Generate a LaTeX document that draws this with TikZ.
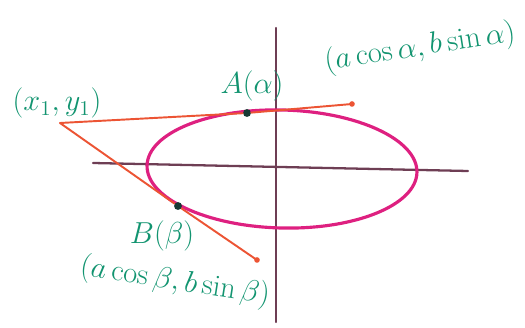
\documentclass[tikz,border=0pt]{standalone}
\usepackage{tikz}

\begin{document}
\begin{tikzpicture}[x=0.02cm, y=0.02cm]

  % Colours (felt-pen look)
  \definecolor{axisC}{RGB}{110,62,84}
  \definecolor{ellC}{RGB}{222,32,128}
  \definecolor{tanC}{RGB}{236,84,52}
  \definecolor{labC}{RGB}{18,148,112}
  \definecolor{dotC}{RGB}{22,58,52}

  \tikzset{
    axisline/.style={axisC, line width=1.3pt, line cap=round},
    tanline/.style={tanC, line width=1.1pt, line cap=round},
    touchdot/.style={circle, fill=dotC, inner sep=0pt, minimum size=4.5pt},
    handlabel/.style={labC, font=\LARGE, inner sep=1pt}
  }

  \useasboundingbox (0,0) rectangle (525,328);

  % --- Axes ---
  \coordinate (xl) at (93,165);
  \coordinate (xr) at (468,157);
  \coordinate (yt) at (276,300);
  \coordinate (yb) at (276,6);
  \draw[axisline] (xl) -- (xr);
  \draw[axisline] (yt) -- (yb);

  % --- Ellipse ---
  \draw[ellC, line width=1.8pt, rotate around={-1.5:(282,159)}] (282,159) ellipse (135 and 59);

  % --- Tangent lines from the outside point ---
  \node[inner sep=0pt] (P) at (60,205) {};
  \node[touchdot] (A) at (247,215) {};
  \node[touchdot] (B) at (178,122) {};
  \coordinate (Aend) at (352,224);
  \coordinate (Bend) at (257,68);
  \draw[tanline] (P.center) -- (A) -- (Aend);
  \draw[tanline] (P.center) -- (B) -- (Bend);
  \fill[tanC] (Aend) circle (1.6pt);
  \fill[tanC] (Bend) circle (1.6pt);

  % --- Labels ---
  \node[handlabel] (Plab) at (57,225) {$(x_1,y_1)$};
  \node[handlabel] (Alab) at (252,242) {$A(\alpha)$};
  \node[handlabel, rotate=9] (Acoord) at (420,280) {$(a\cos\alpha, b\sin\alpha)$};
  \node[handlabel] (Blab) at (162,92) {$B(\beta)$};
  \node[handlabel, rotate=-9] (Bcoord) at (175,46) {$(a\cos\beta, b\sin\beta)$};

\end{tikzpicture}
\end{document}
